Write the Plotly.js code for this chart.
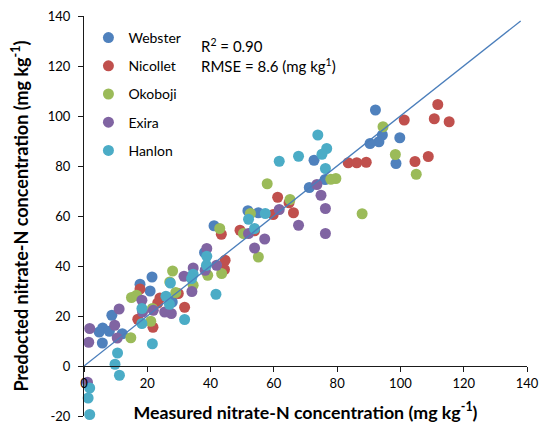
<!DOCTYPE html>
<html>
<head>
<meta charset="utf-8">
<script src="https://cdn.plot.ly/plotly-3.0.1.min.js"></script>
<style>html,body{margin:0;padding:0;background:#fff;}#chart{width:544px;height:432px;}</style>
</head>
<body>
<div id="chart"></div>
<script>
// ---- data ----
const seriesNames = ["Webster", "Nicollet", "Okoboji", "Exira", "Hanlon"];

const websterX = [92.1, 99.8, 94.3, 93.2, 90.4, 98.6, 72.7, 71.2, 76.2, 51.8, 55.1, 41.1, 38.1, 21.5, 20.9, 17.7, 27.9, 8.8, 5.9, 4.8, 8.0, 5.8, 12.1];
const websterY = [102.4, 91.3, 92.4, 89.7, 89.0, 81.0, 82.3, 71.4, 74.6, 62.1, 61.3, 56.1, 45.4, 35.6, 30.0, 32.7, 25.6, 20.3, 15.2, 13.6, 13.9, 9.2, 12.9];

const nicolletX = [111.8, 110.7, 115.4, 101.2, 108.8, 104.6, 83.5, 86.2, 89.2, 61.2, 64.8, 66.2, 59.8, 49.3, 53.9, 43.4, 44.6, 44.4, 29.8, 24.0, 23.3, 31.8, 17.7, 17.0, 21.8];
const nicolletY = [104.6, 98.9, 97.7, 98.4, 83.8, 81.8, 81.3, 81.3, 81.5, 67.5, 65.3, 61.3, 60.6, 54.3, 54.1, 52.7, 42.3, 38.6, 29.0, 27.2, 25.2, 23.5, 30.8, 18.7, 15.5];

const okobojiX = [94.5, 98.4, 105.0, 87.9, 79.6, 78.0, 57.9, 65.1, 52.6, 50.4, 42.9, 55.1, 43.5, 39.1, 34.5, 28.0, 29.0, 27.1, 15.0, 16.6, 21.6, 21.1, 14.8];
const okobojiY = [95.7, 84.6, 76.7, 60.9, 75.0, 74.7, 72.9, 66.6, 61.0, 53.0, 55.0, 43.6, 37.0, 36.3, 32.3, 38.0, 29.4, 33.6, 27.4, 28.3, 23.0, 17.9, 11.3];

const exiraX = [73.6, 74.9, 76.3, 76.3, 67.8, 61.7, 52.0, 53.9, 57.1, 38.8, 41.9, 38.3, 34.5, 31.6, 34.1, 27.6, 25.5, 18.3, 18.5, 21.9, 11.1, 9.7, 10.5, 1.8, 1.5, 1.1];
const exiraY = [72.6, 68.3, 63.0, 53.0, 56.3, 62.6, 53.0, 47.2, 50.8, 47.0, 40.3, 38.3, 39.2, 35.9, 29.8, 21.0, 21.6, 26.3, 21.6, 22.3, 22.8, 16.3, 11.2, 15.0, 9.5, -6.5];

const hanlonX = [73.9, 76.7, 75.2, 67.8, 61.7, 76.3, 57.3, 52.0, 53.9, 38.8, 38.7, 34.5, 34.0, 41.7, 27.3, 25.9, 27.0, 31.8, 18.3, 18.3, 21.6, 10.6, 9.8, 11.2, 1.8, 1.3, 1.8];
const hanlonY = [92.4, 87.0, 84.7, 83.9, 81.9, 79.0, 61.0, 58.7, 55.0, 43.9, 40.3, 36.7, 35.0, 28.7, 33.2, 27.9, 24.7, 18.6, 23.0, 17.0, 8.9, 5.2, 0.7, -3.7, -8.8, -12.8, -19.4];

// 1:1 line
const lineX = [0, 138];
const lineY = [0, 138];

const tickVals = [0, 20, 40, 60, 80, 100, 120, 140];
const yTickVals = [-20, 0, 20, 40, 60, 80, 100, 120, 140];

const statsText = ["R<sup>2</sup> = 0.90", "RMSE = 8.6 (mg kg<sup>1</sup>)"];

// ---- styling ----
const colors = ["#4F81BD", "#C0504D", "#9BBB59", "#8064A2", "#4BACC6"];
const xs = [websterX, nicolletX, okobojiX, exiraX, hanlonX];
const ys = [websterY, nicolletY, okobojiY, exiraY, hanlonY];
const FONT = "Lato, 'Open Sans', sans-serif";

const traces = seriesNames.map((n, i) => ({
  type: "scatter", mode: "markers", name: n,
  x: xs[i], y: ys[i],
  legendgroup: n,
  marker: {color: colors[i], size: 11, line: {width: 0}},
  cliponaxis: false
}));
traces.push({
  type: "scatter", mode: "lines", x: lineX, y: lineY,
  line: {color: "#4A7EBB", width: 1.3}, showlegend: false, hoverinfo: "skip"
});

const layout = {
  width: 544, height: 432,
  margin: {l: 84, r: 17, t: 16, b: 16},
  paper_bgcolor: "#fff", plot_bgcolor: "#fff",
  font: {family: FONT, size: 13, color: "#000"},
  showlegend: true,
  legend: {
    x: 0.01, y: 0.985, xanchor: "left", yanchor: "top",
    font: {family: FONT, size: 14, color: "#000"},
    bgcolor: "rgba(0,0,0,0)", traceorder: "grouped", tracegroupgap: 7,
    itemwidth: 30
  },
  xaxis: {
    range: [0, 140], tickvals: tickVals, ticktext: tickVals.map(String),
    anchor: "free", position: 0.125,
    showgrid: false, zeroline: false,
    showline: true, linecolor: "#1a1a1a", linewidth: 1,
    ticks: "outside", ticklen: 5, tickcolor: "#1a1a1a",
    tickfont: {family: FONT, size: 13, color: "#000"},
    title: {text: "Measured nitrate-N concentration (mg kg<sup>-1</sup>)",
            font: {family: FONT, size: 17.8, weight: 700, color: "#000"}, standoff: 16}
  },
  yaxis: {
    range: [-20, 140], tickvals: yTickVals, ticktext: yTickVals.map(String),
    showgrid: false, zeroline: false,
    showline: true, linecolor: "#1a1a1a", linewidth: 1,
    ticks: "outside", ticklen: 5, tickcolor: "#1a1a1a",
    tickfont: {family: FONT, size: 13, color: "#000"},
    ticklabelstandoff: 5,
    title: {text: "Predocted nitrate-N concentration (mg kg<sup>-1</sup>)",
            font: {family: FONT, size: 18, weight: 700, color: "#000"}, standoff: 14}
  },
  annotations: statsText.map((t, i) => ({
    xref: "paper", yref: "paper", x: 0.26, y: 0.925 - i * 0.048,
    xanchor: "left", yanchor: "middle", showarrow: false, text: t,
    font: {family: FONT, size: 15, color: "#000"}
  }))
};

Plotly.newPlot("chart", traces, layout, {displayModeBar: false, staticPlot: true});
</script>
</body>
</html>
